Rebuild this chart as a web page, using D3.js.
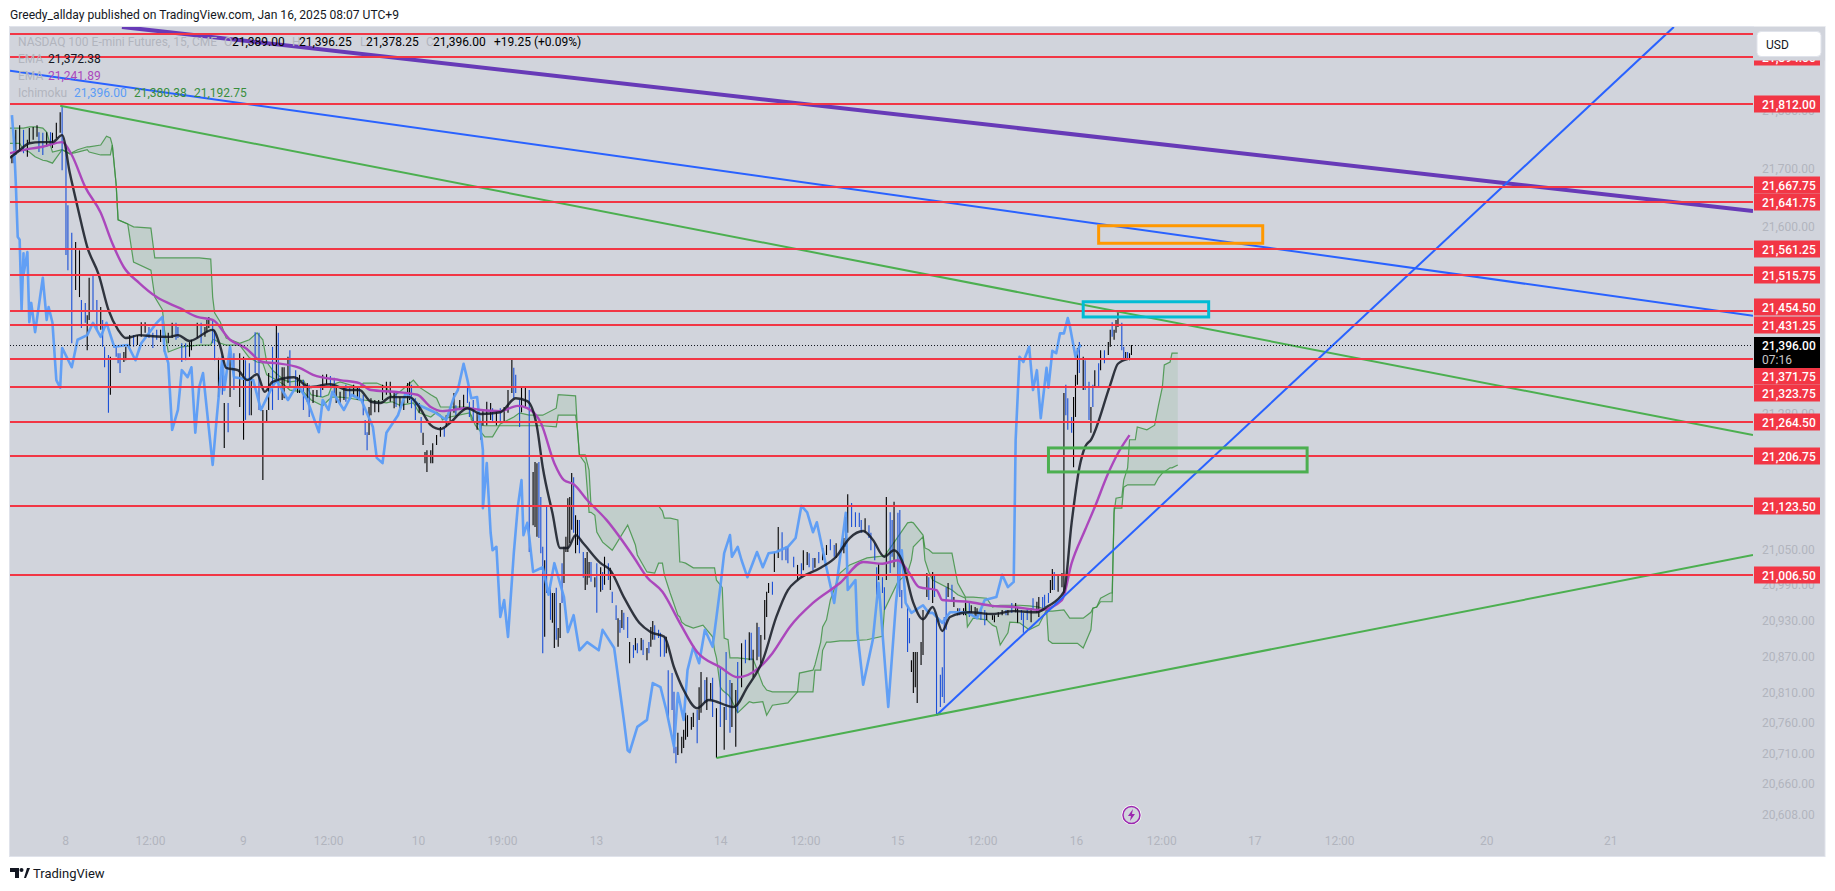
<!DOCTYPE html>
<html>
<head>
<meta charset="utf-8">
<title>NQ 15m</title>
<script src="https://cdn.jsdelivr.net/npm/d3@7"></script>
<style>
  html, body { margin: 0; padding: 0; background: #fff; }
  svg { display: block; }
  text { font-family: Roboto, "Liberation Sans", sans-serif; }
</style>
</head>
<body>
<div id="chart"></div>
<script>
"use strict";

// horizontal levels drawn by the author
var levels = [21934, 21894, 21812, 21667.75, 21641.75, 21561.25, 21515.75, 21454.5, 21431.25, 21371.75, 21323.75, 21264.5, 21206.75, 21123.5, 21006.5];
var priceTicks = [21800, 21700, 21600, 21280, 21050, 20990, 20930, 20870, 20810, 20760, 20710, 20660, 20608];
var timeTicks = [28.5, 72.5, 120.7, 164.8, 211.4, 254.9, 303.6, 367.9, 411.9, 459.6, 503.6, 552.3, 596.4, 644.6, 688.6, 764.8, 829];
var timeLabels = ["8", "12:00", "9", "12:00", "10", "19:00", "13", "14", "12:00", "15", "12:00", "16", "12:00", "17", "12:00", "20", "21"];
var lastPrice = 21396;

// 15 min bars, x is the bar number counted from the left edge
var barNum = [
  1,2,3,5,7,9,10,12,14,15,
  17,19,21,22,24,26,27,29,30,32,
  34,36,37,39,40,41,43,45,47,48,
  49,51,52,55,56,57,59,60,62,64,
  66,68,70,72,74,76,78,80,82,84,
  86,87,89,91,93,94,97,99,101,102,
  103,105,106,108,110,111,113,114,116,119,
  121,122,124,125,127,129,131,133,134,136,
  138,139,141,142,144,145,148,149,
  150,152,154,155,157,159,161,162,164,166,
  168,169,171,173,174,176,178,180,181,183,
  184,185,186,187,189,191,193,195,197,199,
  200,202,204,206,207,208,210,212,213,214,
  215,216,218,219,221,223,225,226,228,230,
  231,233,235,237,238,240,242,244,245,247,
  249,250,252,254,256,258,260,261,262,264,
  265,267,269,
  271,272,273,274,275,276,277,278,280,281,
  282,283,284,285,286,287,288,289,290,291,
  292,293,294,295,297,298,299,300,301,303,
  304,306,307,308,310,311,312,314,315,316,
  317,318,320,321,323,324,325,327,328,330,
  331,332,333,334,336,337,339,340,341,343,
  344,345,346,348,349,350,351,353,354,356,
  357,358,360,361,363,364,366,368,370,371,
  373,374,376,377,379,381,383,384,385,387,
  388,389,391,392,393,395,396,398,
  400,402,403,406,408,410,411,413,414,416,
  417,419,421,423,425,427,428,431,432,433,
  434,436,438,440,441,443,445,446,448,449,
  450,452,453,454,456,457,458,460,461,462,
  465,466,467,468,469,470,472,473,475,476,
  478,479,480,482,483,484,485,486,488,489,
  491,492,494,495,497,498,500,501,503,505,
  506,509,510,512,514,516,517,519,521,522,
  524,525,527,529,530,532,533,535,536,538,
  539,540,541,543,545,546,
  547,548,550,551,552,553,554,556,557,559,
  560,561,562,564,565,567,569,570,571,572,
  573,574,576,577,578,579,580,581
];
var barHigh = [
  21725,21751,21768,21776,21768,21751,21771,21773,21776,21764,
  21763,21764,21764,21763,21780,21798,21807,21739,21639,21592,
  21576,21562,21477,21472,21451,21515,21520,21477,21465,21443,
  21397,21383,21380,21397,21386,21386,21388,21397,21417,21417,
  21417,21439,21439,21431,21421,21426,21426,21414,21421,21438,
  21438,21431,21403,21403,21405,21409,21438,21438,21431,21443,
  21448,21443,21426,21378,21374,21301,21301,21386,21386,21386,
  21380,21374,21369,21345,21422,21421,21289,21289,21352,21397,
  21436,21421,21362,21362,21380,21391,21357,21345,
  21349,21340,21335,21332,21323,21323,21332,21349,21350,21347,
  21344,21327,21320,21327,21332,21327,21332,21328,21327,21315,
  21272,21251,21294,21309,21306,21306,21332,21337,21337,21320,
  21320,21311,21306,21335,21337,21332,21309,21301,21277,21250,
  21217,21220,21220,21232,21246,21260,21258,21280,21294,21318,
  21297,21306,21315,21328,21303,21306,21284,21268,21289,21303,
  21301,21292,21289,21292,21294,21323,21376,21361,21349,21306,
  21327,21328,21323,
  21183,21200,21198,21200,21140,21055,21032,21123,20986,20976,
  20976,20985,20916,20959,21027,21055,21072,21138,21140,21181,
  21174,21109,21101,21101,21046,21036,21046,21029,21029,21003,
  21027,21020,21012,21038,21027,21019,20978,20955,20933,20930,
  20947,20942,20935,20892,20887,20899,20890,20899,20896,20882,
  20892,20918,20928,20921,20913,20908,20901,20901,20844,20839,
  20807,20713,20737,20730,20742,20771,20767,20764,20771,20776,
  20815,20841,20827,20832,20822,20831,20779,20849,20781,20875,
  20827,20822,20810,20858,20890,20896,20909,20908,20879,20925,
  20918,20904,20964,20978,20993,20995,21046,21089,
  21080,21055,21055,21038,21024,21027,21049,21046,21044,21036,
  21036,21046,21053,21058,21068,21058,21061,21067,21070,21106,
  21145,21130,21114,21113,21101,21104,21092,21079,21061,21020,
  21027,21003,20986,21140,21114,21101,21132,21113,21118,20981,
  20955,20933,20861,20875,20875,20875,20892,20947,21010,21003,
  21012,21007,20935,20836,20849,20935,20986,20993,20990,20969,
  20950,20950,20950,20959,20961,20955,20952,20950,20950,20947,
  20942,20938,20938,20943,20947,20947,20947,20959,20959,20952,
  20947,20942,20950,20950,20967,20961,20969,20969,20973,20976,
  20998,21017,21012,21007,21010,21318,
  21332,21309,21277,21311,21349,21395,21405,21380,21374,21337,
  21294,21332,21357,21369,21391,21391,21405,21426,21439,21426,
  21443,21456,21438,21397,21388,21388,21386,21400
];
var barLow = [
  21711,21711,21725,21733,21728,21722,21745,21751,21756,21730,
  21725,21739,21742,21737,21754,21763,21699,21554,21528,21403,
  21494,21482,21429,21438,21391,21443,21460,21426,21426,21397,
  21362,21284,21315,21380,21369,21352,21371,21374,21397,21397,
  21400,21414,21421,21412,21395,21409,21405,21388,21403,21412,
  21409,21412,21371,21374,21380,21391,21412,21403,21414,21422,
  21429,21403,21374,21311,21315,21224,21251,21311,21323,21294,
  21238,21272,21280,21280,21352,21289,21169,21268,21289,21289,
  21335,21306,21306,21309,21335,21328,21323,21318,
  21318,21289,21303,21277,21301,21311,21311,21323,21332,21327,
  21318,21301,21301,21306,21303,21306,21311,21306,21306,21280,
  21246,21220,21246,21280,21285,21285,21306,21315,21303,21292,
  21294,21292,21289,21301,21306,21292,21272,21284,21250,21229,
  21198,21183,21198,21198,21229,21243,21243,21260,21268,21284,
  21280,21289,21289,21301,21277,21268,21255,21238,21263,21263,
  21272,21267,21263,21267,21268,21284,21318,21309,21318,21260,
  21285,21294,21046,
  21092,21089,21072,21070,21044,20873,20901,20976,20930,20925,
  20882,20896,20884,20899,20959,20993,21046,21046,21061,21084,
  21079,21044,21058,21044,21002,20981,20990,21002,20995,20986,
  20942,20978,20981,20990,20998,20981,20959,20930,20884,20908,
  20916,20913,20899,20856,20865,20878,20873,20878,20870,20861,
  20873,20884,20896,20896,20899,20867,20867,20873,20759,20776,
  20702,20685,20699,20702,20711,20725,20730,20742,20747,20719,
  20759,20771,20788,20776,20793,20764,20694,20747,20708,20759,
  20737,20747,20713,20771,20815,20856,20861,20861,20832,20861,
  20867,20856,20896,20935,20976,20973,21012,21036,
  21032,21032,21027,21020,20998,21003,21015,21024,21020,21015,
  21019,21027,21032,21041,21049,21038,21036,21049,21044,21055,
  21079,21089,21089,21089,21079,21079,21070,21049,21032,20973,
  20998,20976,20947,20998,21010,21038,21020,20993,20969,20950,
  20875,20890,20841,20805,20815,20788,20853,20870,20969,20964,
  20959,20969,20767,20781,20798,20788,20913,20969,20964,20952,
  20938,20938,20938,20938,20935,20942,20935,20935,20930,20921,
  20930,20930,20926,20935,20938,20938,20938,20942,20943,20925,
  20930,20908,20930,20926,20947,20942,20935,20950,20952,20959,
  20976,20981,20981,20978,20986,20976,
  21280,21255,21250,21191,21277,21332,21352,21323,21323,21272,
  21250,21294,21327,21327,21357,21369,21383,21397,21414,21409,
  21421,21431,21391,21374,21378,21378,21374,21383
];
var barUp = [
  1,0,1,1,0,1,1,1,1,0,
  0,1,0,1,1,1,0,0,0,0,
  1,1,0,0,1,1,0,0,1,0,
  0,0,1,0,0,0,1,1,1,0,
  1,1,1,0,0,0,1,0,1,1,
  0,0,0,0,1,1,1,0,1,1,
  1,0,0,1,0,1,0,1,0,1,
  1,0,0,1,0,0,1,1,1,0,
  1,0,1,1,1,0,0,1,
  1,0,1,0,1,1,0,1,1,0,
  0,1,1,1,0,0,1,1,0,0,
  0,0,1,1,1,1,1,1,1,1,
  0,1,1,1,1,0,0,1,0,1,
  1,1,1,1,1,1,0,1,1,1,
  0,1,1,0,0,0,1,1,1,1,
  1,0,1,0,1,1,1,0,0,0,
  1,1,0,
  1,1,1,0,0,0,1,0,0,1,
  1,0,1,1,0,1,1,1,1,1,
  0,1,1,0,0,1,1,1,0,1,
  0,1,0,1,0,1,0,0,1,0,
  1,0,0,1,0,1,0,1,0,1,
  0,1,1,0,0,0,0,1,0,0,
  0,0,1,1,1,1,1,1,1,0,
  1,1,0,1,1,0,1,0,1,0,
  0,1,1,0,1,0,1,0,1,1,
  0,1,1,1,1,0,1,1,
  0,0,0,0,1,0,1,1,0,0,
  1,0,1,1,0,0,1,0,1,1,
  1,0,0,0,0,1,0,0,0,0,
  1,0,0,1,0,0,1,0,0,0,
  0,0,1,1,1,1,1,1,1,0,
  1,0,0,0,0,0,0,1,0,1,
  1,0,1,1,0,1,1,1,0,0,
  1,1,1,1,1,0,1,0,1,1,
  0,0,0,1,0,1,1,0,0,0,
  1,1,0,1,1,1,
  0,0,0,1,1,1,0,1,0,0,
  1,0,1,0,1,0,1,1,0,1,
  1,1,0,0,1,0,1,1
];

// EMA (black)
var emaFastNum = [0,5,10,16,22,27,31,35,40,46,51,56,60,67,74,83,87,93,105,109,112,118,123,128,132,136,147,155,166,175,181,187,192,197,207,212,218,223,228,237,244,254,262,268,273,276,281,285,289,293,297,306,311,318,326,332,339,344,349,356,362,375,382,390,397,403,408,420,428,435,442,447,453,458,462,468,473,478,483,487,497,509,520,532,537,546,550,554,557,560,570,574,579];
var emaFast = [21720,21733,21745,21747,21747,21759,21694,21636,21568,21520,21460,21426,21412,21417,21415,21414,21417,21407,21426,21397,21361,21357,21340,21350,21320,21337,21345,21328,21333,21323,21323,21303,21301,21311,21311,21294,21263,21256,21267,21292,21282,21285,21309,21304,21260,21191,21113,21053,21053,21075,21061,21027,21015,20969,20925,20909,20901,20849,20810,20779,20793,20781,20815,20861,20935,20981,20998,21019,21038,21070,21082,21067,21038,21049,21032,20959,20931,20952,20911,20935,20943,20940,20945,20943,20952,20978,21096,21190,21226,21238,21332,21368,21376];

// EMA (purple)
var emaSlowNum = [0,9,17,27,32,39,47,53,59,67,76,88,97,105,114,122,131,138,150,157,171,181,187,199,211,218,224,237,244,254,263,268,275,282,287,292,299,309,323,330,338,347,356,368,377,388,395,404,416,430,442,452,460,465,471,480,483,496,509,520,534,545,550,557,562,569,574,580];
var emaSlow = [21728,21735,21739,21747,21725,21670,21626,21574,21533,21506,21482,21463,21448,21443,21409,21395,21371,21369,21361,21349,21340,21335,21323,21320,21315,21294,21287,21292,21289,21287,21296,21292,21267,21198,21169,21162,21135,21101,21038,21003,20978,20925,20875,20849,20832,20848,20873,20918,20959,20993,21029,21026,21032,21015,20986,20981,20964,20961,20954,20952,20947,20964,21027,21084,21123,21181,21215,21246];

// Ichimoku lagging span (light blue)
var laggingNum = [1,2,3,4,5,6,7,7,9,10,11,13,17,19,20,22,24,26,27,32,35,40,43,47,50,54,61,65,68,76,79,80,82,84,87,89,92,94,96,98,100,105,107,110,111,114,116,126,130,135,138,144,148,150,154,160,162,165,167,173,177,182,188,190,193,195,201,205,212,220,226,230,232,235,237,239,242,245,245,247,249,250,252,254,256,258,261,263,265,266,268,269,271,276,279,282,287,289,292,295,299,305,307,313,318,320,321,325,330,333,337,340,344,346,349,351,354,357,360,364,368,370,373,374,377,379,382,387,390,393,397,403,407,410,413,416,418,423,427,433,434,438,439,442,445,447,450,455,459,462,464,467,473,476,478,483,487,496,501,505,511,514,517,520,521,523,525,528,530,532,534,537,538,540,542,544,546,548,549,552,554,555];
var lagging = [21793,21751,21677,21585,21580,21460,21557,21520,21559,21439,21472,21422,21515,21443,21465,21438,21340,21327,21395,21362,21409,21417,21438,21414,21438,21397,21400,21374,21403,21438,21448,21391,21369,21255,21289,21357,21345,21362,21250,21328,21352,21195,21272,21380,21323,21397,21345,21340,21289,21323,21340,21306,21328,21327,21306,21251,21306,21289,21320,21289,21315,21306,21260,21207,21198,21250,21280,21318,21297,21285,21272,21311,21323,21368,21340,21309,21311,21220,21121,21198,21079,21049,21055,20935,20964,20901,21044,21121,21169,21075,21096,21072,21012,21020,20973,21027,20969,20909,20938,20878,20892,20878,20913,20882,20759,20707,20704,20747,20759,20822,20815,20776,20713,20805,20759,20844,20884,20856,20913,20884,20986,21044,21075,21038,21055,21032,21003,21046,21020,21044,21046,21055,21070,21125,21114,21080,21097,21019,20959,21113,20981,20998,20908,20819,20865,20896,20993,20781,20959,21049,20959,20942,20955,20942,20942,20925,20943,20943,20933,20964,20969,21007,20986,20995,21238,21380,21371,21397,21323,21357,21275,21361,21327,21390,21386,21420,21420,21446,21434,21380,21397,21400];

// Ichimoku leading spans, cloud is the band between them
var cloudNum = [0,5,7,10,13,17,19,22,27,31,35,40,41,47,50,52,53,55,56,61,64,73,75,79,80,82,89,98,104,105,106,109,112,119,124,128,131,133,136,142,145,152,156,162,165,167,171,176,181,183,190,195,198,202,209,212,218,221,223,224,228,238,239,241,244,246,250,254,261,264,269,276,283,284,293,294,295,298,300,301,303,304,307,312,320,322,324,325,330,334,336,338,339,342,346,347,348,350,354,359,364,365,366,368,369,370,372,373,377,383,385,390,392,395,403,408,409,416,417,420,421,423,425,430,435,444,452,453,460,465,467,468,473,474,476,478,488,491,495,496,499,506,509,511,513,517,518,523,528,533,537,538,540,546,549,553,556,560,561,563,565,570,571,572,573,576,577,579,580,583,584,589,593,595,597,598,601,602,605];
var spanA = [21771,21771,21771,21773,21773,21771,21764,21730,21734,21727,21734,21739,21739,21742,21757,21754,21742,21674,21614,21607,21602,21600,21549,21549,21549,21549,21549,21549,21547,21482,21455,21439,21412,21403,21409,21421,21409,21371,21357,21340,21337,21340,21315,21311,21315,21332,21337,21332,21327,21335,21335,21328,21311,21320,21340,21328,21315,21309,21294,21294,21294,21294,21272,21268,21263,21262,21262,21262,21262,21262,21262,21262,21260,21280,21280,21255,21212,21212,21186,21125,21125,21125,21125,21125,21125,21125,21125,21125,21125,21125,21125,21116,21104,21104,21101,21029,21029,21027,21019,21019,21019,21019,20998,20990,20985,20899,20896,20865,20865,20863,20863,20819,20810,20807,20807,20807,20839,20844,20853,20892,20918,20930,20964,21010,21024,21036,21039,21039,21072,21096,21097,21096,21075,21053,21050,21044,21044,20993,20969,20969,20969,20967,20952,20954,20955,20955,20955,20955,20954,20952,20947,20945,20945,20947,20933,20933,20933,20943,20950,20952,20967,20976,20976,21113,21138,21140,21169,21190,21238,21238,21260,21255,21263,21297,21328,21366,21371,21386,21386];
var spanB = [21745,21745,21734,21730,21722,21716,21715,21711,21734,21727,21730,21734,21730,21725,21725,21725,21742,21674,21614,21607,21542,21528,21482,21460,21426,21388,21397,21400,21400,21409,21409,21403,21400,21400,21378,21371,21369,21349,21344,21332,21323,21320,21306,21296,21306,21311,21311,21309,21306,21306,21303,21301,21303,21297,21301,21284,21277,21285,21280,21272,21277,21284,21280,21263,21251,21243,21243,21265,21277,21284,21280,21280,21292,21315,21313,21255,21212,21198,21114,21114,21109,21080,21063,21049,21092,21075,21058,21041,21012,21010,21027,21027,21007,20976,20938,20935,20926,20921,20916,20921,20901,20878,20865,20815,20810,20807,20802,20798,20771,20790,20788,20790,20767,20784,20788,20807,20807,20807,20844,20844,20878,20892,20892,20894,20894,20896,20902,20947,20995,21010,21032,21055,21072,21032,21012,20998,20981,20973,20967,20918,20933,20930,20921,20918,20887,20908,20926,20925,20913,20921,20947,20895,20890,20890,20890,20890,20882,20913,20950,20952,20961,20961,20961,21121,21121,21121,21157,21161,21161,21161,21161,21161,21161,21173,21181,21183,21190,21190,21195];

// trend lines as [bar, price, bar, price]
var trendPurple = [58, 21944, 903, 21629];
var trendBlue = [0, 21869, 903, 21450];
var trendGreenDown = [26, 21809, 903, 21246];
var trendBlueUp = [480, 20767, 862, 21944];
var trendGreenUp = [366, 20694, 903, 21041];

// boxes as [bar, price, bar, price]
var boxOrange = [564, 21604, 649, 21574];
var boxTeal = [556, 21474, 621, 21448];
var boxGreen = [538, 21224, 672, 21183];

var width = 1835, height = 891;
var plot = { left: 10, top: 27, right: 1753, bottom: 856, edge: 1825 };

var svg = d3.select("#chart").append("svg")
    .attr("width", width)
    .attr("height", height);

var x = d3.scaleLinear().domain([0, 903]).range([plot.left, plot.right]);
// the price axis is logarithmic
var yAxis = d3.scaleLog().domain([21812, 20608]).range([104, 815]);
// bars, lines and drawings were read against a straight ruler, so they get a straight scale
var y = d3.scaleLinear().domain([21990, 20600]).range([0, 812.87]);

svg.append("rect")
    .attr("x", 9.5).attr("y", plot.top - 0.5)
    .attr("width", plot.edge - 9.5).attr("height", plot.bottom - plot.top + 1)
    .attr("fill", "#d1d4dc").attr("stroke", "#e0e3eb");

svg.append("clipPath").attr("id", "plotClip").append("rect")
    .attr("x", plot.left).attr("y", plot.top)
    .attr("width", plot.right - plot.left).attr("height", plot.bottom - plot.top);

var g = svg.append("g").attr("clip-path", "url(#plotClip)");

// == cloud ==
var cloudArea = d3.area()
    .x(function (d) { return x(d); })
    .y0(function (d, i) { return y(spanA[i]); })
    .y1(function (d, i) { return y(spanB[i]); });
g.append("path").attr("d", cloudArea(cloudNum))
    .attr("fill", "rgba(67,160,71,0.11)");

[spanA, spanB].forEach(function (span) {
    var line = d3.line()
        .x(function (d) { return x(d); })
        .y(function (d, i) { return y(span[i]); });
    g.append("path").attr("d", line(cloudNum))
        .attr("fill", "none").attr("stroke", "#388e3c")
        .attr("stroke-width", 1.2).attr("stroke-opacity", 0.8);
});

// == bars ==
g.selectAll("line.bar")
    .data(barNum)
    .enter()
    .append("line")
    .attr("class", "bar")
    .attr("x1", function (d) { return x(d); })
    .attr("x2", function (d) { return x(d); })
    .attr("y1", function (d, i) { return y(barHigh[i]); })
    .attr("y2", function (d, i) { return y(barLow[i]); })
    .attr("stroke", function (d, i) { return barUp[i] ? "#000000" : "#1a4fd6"; })
    .attr("stroke-width", 1.1);

// == indicator lines ==
function drawSeries(nums, vals, color, w, curve, opacity) {
    var line = d3.line()
        .x(function (d) { return x(d); })
        .y(function (d, i) { return y(vals[i]); })
        .curve(curve);
    g.append("path").attr("d", line(nums))
        .attr("fill", "none").attr("stroke", color)
        .attr("stroke-width", w).attr("stroke-opacity", opacity)
        .attr("stroke-linejoin", "round");
}
drawSeries(laggingNum, lagging, "#5b9cf6", 2.6, d3.curveLinear, 0.95);
drawSeries(emaSlowNum, emaSlow, "#ab47bc", 2.4, d3.curveMonotoneX, 1);
drawSeries(emaFastNum, emaFast, "#131722", 2.4, d3.curveMonotoneX, 0.85);

// == trend lines ==
function drawTrend(t, color, w) {
    g.append("line")
        .attr("x1", x(t[0])).attr("y1", y(t[1]))
        .attr("x2", x(t[2])).attr("y2", y(t[3]))
        .attr("stroke", color).attr("stroke-width", w);
}
drawTrend(trendPurple, "#673ab7", 4);
drawTrend(trendBlue, "#2962ff", 2);
drawTrend(trendGreenDown, "#4caf50", 2);
drawTrend(trendBlueUp, "#2962ff", 2);
drawTrend(trendGreenUp, "#4caf50", 2);

// last price dotted
g.append("line")
    .attr("x1", plot.left).attr("x2", plot.right)
    .attr("y1", Math.round(yAxis(lastPrice)) + 0.5).attr("y2", Math.round(yAxis(lastPrice)) + 0.5)
    .attr("stroke", "#131722").attr("stroke-width", 1).attr("stroke-dasharray", "1 2");

g.selectAll("line.level")
    .data(levels)
    .enter()
    .append("line")
    .attr("class", "level")
    .attr("x1", plot.left).attr("x2", plot.right)
    .attr("y1", function (d) { return Math.round(yAxis(d)); })
    .attr("y2", function (d) { return Math.round(yAxis(d)); })
    .attr("stroke", "#f23645").attr("stroke-width", 2);

// == boxes ==
function drawBox(b, color) {
    g.append("rect")
        .attr("x", x(b[0])).attr("y", y(b[1]))
        .attr("width", x(b[2]) - x(b[0])).attr("height", y(b[3]) - y(b[1]))
        .attr("fill", "none").attr("stroke", color).attr("stroke-width", 3);
}
drawBox(boxOrange, "#ff9800");
drawBox(boxTeal, "#00bcd4");
drawBox(boxGreen, "#4caf50");

// == axes ==
var priceAxis = d3.axisRight(yAxis)
    .tickValues(priceTicks)
    .tickSize(0)
    .tickPadding(0)
    .tickFormat(d3.format(",.2f"));
var priceG = svg.append("g").attr("transform", "translate(1762,0)").call(priceAxis);
priceG.select(".domain").remove();
priceG.selectAll("text").attr("fill", "#b2b5be").attr("font-size", 12).attr("font-family", "Roboto");

var timeAxis = d3.axisBottom(x)
    .tickValues(timeTicks)
    .tickSize(0)
    .tickPadding(0)
    .tickFormat(function (d, i) { return timeLabels[i]; });
var timeG = svg.append("g").attr("transform", "translate(0,836)").call(timeAxis);
timeG.select(".domain").remove();
timeG.selectAll("text").attr("fill", "#b2b5be").attr("font-size", 12).attr("font-family", "Roboto");

// level tags, TradingView pushes the crowded ones apart
var tagNudge = { 21667.75: -2, 21454.5: -4, 21371.75: 17, 21323.75: 6 };
var tags = svg.selectAll("g.tag")
    .data(levels)
    .enter()
    .append("g")
    .attr("class", "tag")
    .attr("transform", function (d) {
        return "translate(1754," + (Math.round(yAxis(d)) + (tagNudge[d] || 0)) + ")";
    });
tags.append("rect")
    .attr("x", 0).attr("y", -8.5)
    .attr("width", 66).attr("height", 17)
    .attr("fill", "#f23645");
tags.append("text")
    .attr("x", 8).attr("y", 4.5)
    .attr("fill", "#ffffff")
    .attr("font-size", 12).attr("font-weight", 500)
    .text(function (d) { return d3.format(",.2f")(d); });

// current price tag
var yLast = Math.round(yAxis(lastPrice));
svg.append("rect")
    .attr("x", 1754).attr("y", yLast - 8)
    .attr("width", 66).attr("height", 31)
    .attr("fill", "#000000");
svg.append("text").attr("x", 1762).attr("y", yLast + 4.5)
    .attr("fill", "#ffffff").attr("font-size", 12).attr("font-weight", 500)
    .text(d3.format(",.2f")(lastPrice));
svg.append("text").attr("x", 1762).attr("y", yLast + 18.5)
    .attr("fill", "#c8c8c8").attr("font-size", 12)
    .text("07:16");

// USD button sits on a patch of panel colour that hides the top tags
svg.append("rect")
    .attr("x", 1754).attr("y", 20)
    .attr("width", 71).attr("height", 40.5)
    .attr("fill", "#d1d4dc");
svg.append("rect")
    .attr("x", 1754).attr("y", 18)
    .attr("width", 71).attr("height", 8.5)
    .attr("fill", "#ffffff");
svg.append("rect")
    .attr("x", 1757).attr("y", 31.5)
    .attr("width", 64).attr("height", 25).attr("rx", 4)
    .attr("fill", "#ffffff").attr("stroke", "#e0e3eb");
svg.append("text").attr("x", 1766).attr("y", 48.5)
    .attr("fill", "#131722").attr("font-size", 12)
    .text("USD");

// lightning badge
var badge = svg.append("g").attr("transform", "translate(" + x(581) + ",815)");
badge.append("circle").attr("r", 10).attr("fill", "#ffffff");
badge.append("circle").attr("r", 8.5).attr("fill", "#d1d4dc").attr("stroke", "#9c27b0").attr("stroke-width", 1.5);
badge.append("path").attr("d", "M1.5 -6 L-3.5 1 L-0.5 1 L-1.5 6 L3.5 -1 L0.5 -1 Z").attr("fill", "#9c27b0");

// == header and legend ==
function label(txt, px, py, color, size) {
    svg.append("text").attr("x", px).attr("y", py)
        .attr("fill", color).attr("font-size", size || 12)
        .text(txt);
}
label("Greedy_allday published on TradingView.com, Jan 16, 2025 08:07 UTC+9", 10, 19, "#131722", 12.1);

label("NASDAQ 100 E-mini Futures, 15, CME", 18, 46, "#b2b5be");
label("O", 224, 46, "#b2b5be");
label("21,389.00", 232, 46, "#000000");
label("H", 292, 46, "#b2b5be");
label("21,396.25", 299, 46, "#000000");
label("L", 360, 46, "#b2b5be");
label("21,378.25", 366, 46, "#000000");
label("C", 426, 46, "#b2b5be");
label("21,396.00", 433, 46, "#000000");
label("+19.25 (+0.09%)", 494, 46, "#000000");
label("EMA", 18, 63, "#b2b5be");
label("21,372.38", 48, 63, "#131722");
label("EMA", 18, 80, "#b2b5be");
label("21,241.89", 48, 80, "#ab47bc");
label("Ichimoku", 18, 97, "#b2b5be");
label("21,396.00", 74, 97, "#5b9cf6");
label("21,380.38", 134, 97, "#388e3c");
label("21,192.75", 194, 97, "#388e3c");

// TradingView mark
svg.append("path").attr("d", "M10 868 H19 V878 H15 V872 H10 Z M24 878 L27 868 H30 L26 878 Z").attr("fill", "#131722");
svg.append("circle").attr("cx", 21.5).attr("cy", 870).attr("r", 2).attr("fill", "#131722");
svg.append("text").attr("x", 33).attr("y", 878)
    .attr("fill", "#131722").attr("font-size", 13)
    .text("TradingView");
</script>
</body>
</html>
